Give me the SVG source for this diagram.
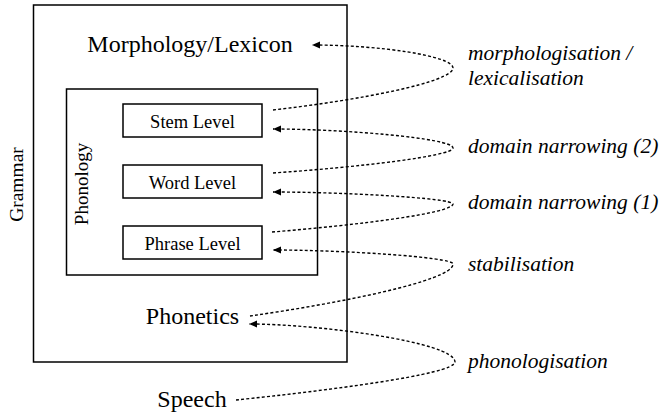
<svg xmlns="http://www.w3.org/2000/svg" width="660" height="416" viewBox="0 0 660 416">
<style>
.box{fill:none;stroke:#000;stroke-width:1.5}
.t{font-family:"Liberation Serif","Times New Roman",serif;fill:#000}
.big{font-size:24px;text-anchor:middle}
.lvl{font-size:18.5px;text-anchor:middle}
.lab{font-size:21.5px;font-style:italic}
.c{fill:none;stroke:#000;stroke-width:1.4;stroke-dasharray:3 2.2}
.ca{marker-end:url(#ah)}
</style>
<defs>
<marker id="ah" markerUnits="userSpaceOnUse" markerWidth="9" markerHeight="8" refX="8" refY="3.5" orient="auto">
<path d="M0,0 L8,3.5 L0,7 z" fill="#000"/>
</marker>
</defs>
<g id="grammar">
<rect class="box" x="33.5" y="5" width="313.5" height="357"/>
<text class="t" font-size="19.5" text-anchor="middle" transform="translate(22.5,184.5) rotate(-90)">Grammar</text>
</g>
<g id="morphology">
<text class="t big" x="190" y="52">Morphology/Lexicon</text>
</g>
<g id="phonology">
<rect class="box" x="66.5" y="89" width="251" height="186"/>
<text class="t" font-size="19" text-anchor="middle" transform="translate(88,184) rotate(-90)">Phonology</text>
</g>
<g id="stem">
<rect class="box" x="123" y="104" width="139" height="33"/>
<text class="t lvl" x="192.5" y="128">Stem Level</text>
</g>
<g id="word">
<rect class="box" x="123" y="165" width="139" height="33"/>
<text class="t lvl" x="192.5" y="188.5">Word Level</text>
</g>
<g id="phrase">
<rect class="box" x="123" y="226" width="139" height="33"/>
<text class="t lvl" x="192.5" y="249.5">Phrase Level</text>
</g>
<g id="phonetics">
<text class="t big" x="192.5" y="324">Phonetics</text>
</g>
<g id="speech">
<text class="t big" x="192" y="407">Speech</text>
</g>
<g id="labels">
<text class="t lab" x="468" y="60">morphologisation /</text>
<text class="t lab" x="468" y="85">lexicalisation</text>
<text class="t lab" x="468" y="153">domain narrowing (2)</text>
<text class="t lab" x="468" y="209">domain narrowing (1)</text>
<text class="t lab" x="468" y="271">stabilisation</text>
<text class="t lab" x="468" y="368">phonologisation</text>
</g>
<g id="connectors">
<path class="c ca" d="M273,110 C360,100 453,82 453,68 C453,56 380,45 312,45"/>
<path class="c ca" d="M273,173 C360,167 453,156 453,148 C453,138 341,129 273,129"/>
<path class="c ca" d="M272,232 C359,225 453,213 453,204 C453,198 341,192 273,192"/>
<path class="c ca" d="M250,316 C337,303.5 453,281 453,264 C453,257 341,250 273,250"/>
<path class="c ca" d="M236,400 C323,391 455,374.5 455,362 C455,342 317,324 249,324"/>
</g>
</svg>
